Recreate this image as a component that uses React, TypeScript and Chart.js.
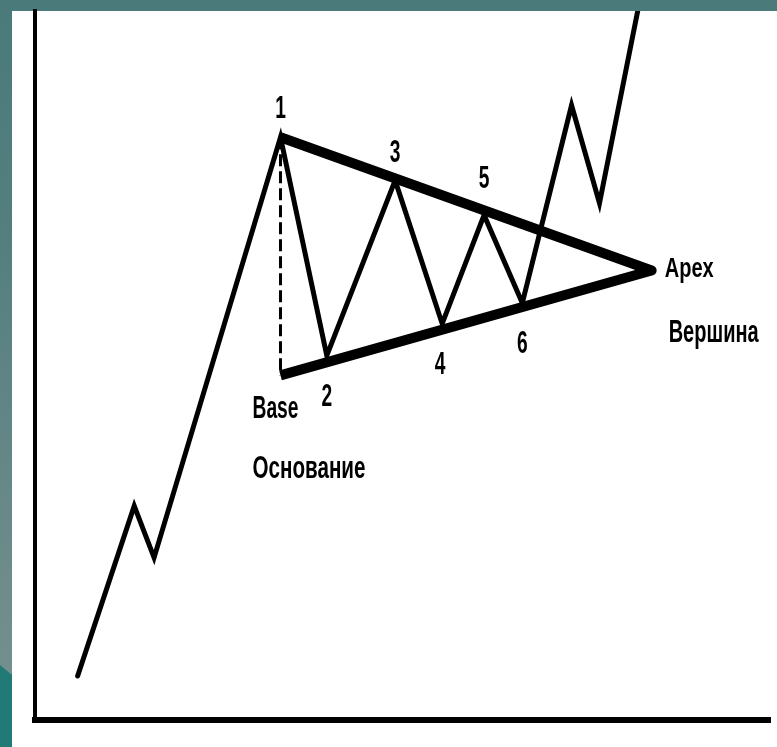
import React, { useEffect, useRef } from "react";
import { Chart, registerables } from "chart.js";

Chart.register(...registerables);

// Time (x) and price (y), both on a 0..100 scale
const priceX = [5.8, 13.5, 16.2, 33.4, 39.7, 49.0, 55.4, 61.1, 66.3, 73.0, 76.8, 82.0];
const priceY = [6.2, 30.2, 22.9, 82.2, 51.4, 76.1, 55.9, 71.2, 58.8, 86.7, 72.9, 100];

// Triangle: top of the base (pivot 1) -> apex -> bottom of the base
const triangleX = [33.4, 83.9, 33.4];
const triangleY = [82.2, 63.4, 48.6];

// Dashed base line
const baseX = [33.4, 33.4];
const baseY = [82.2, 48.6];

// Pivot labels and which price point each belongs to
const pivotLabels = ["1", "2", "3", "4", "5", "6"];
const pivotIndex = [3, 4, 5, 6, 7, 8];

const baseLabels = ["Base", "Основание"];
const apexLabels = ["Apex", "Вершина"];

// ---- styles (pixel offsets from the anchor point, target text widths) ----
const pivotStyle = [
  { dx: 0, dy: -19 },
  { dx: 0, dy: 50 },
  { dx: 0, dy: -18 },
  { dx: -2, dy: 50 },
  { dx: 0, dy: -27 },
  { dx: 0, dy: 50 },
];
const baseStyle = [
  { dx: -28, dy: 43, size: 32, width: 46, weight: "bold" },
  { dx: -28, dy: 103, size: 32, width: 113, weight: "bold" },
];
const apexStyle = [
  { dx: 13, dy: 7, size: 27, width: 49, weight: "bold" },
  { dx: 17, dy: 72, size: 32, width: 90, weight: "bold" },
];

const FONT = "'Liberation Sans', Arial, sans-serif";

const toPts = (xs: number[], ys: number[]) => xs.map((x, i) => ({ x, y: ys[i] }));

const labelPlugin = {
  id: "labels",
  afterDatasetsDraw(chart: any) {
    const ctx = chart.ctx as CanvasRenderingContext2D;
    const xs = chart.scales.x;
    const ys = chart.scales.y;
    ctx.save();
    ctx.fillStyle = "#000";
    ctx.textBaseline = "alphabetic";

    // pivot digits
    ctx.font = `bold 32px ${FONT}`;
    ctx.textAlign = "center";
    pivotLabels.forEach((t, i) => {
      const k = pivotIndex[i];
      const px = xs.getPixelForValue(priceX[k]) + pivotStyle[i].dx;
      const py = ys.getPixelForValue(priceY[k]) + pivotStyle[i].dy;
      ctx.save();
      ctx.translate(px, py);
      ctx.scale(0.6, 1);
      ctx.fillText(t, 0, 0);
      ctx.restore();
    });

    const drawFit = (t: string, x: number, y: number, size: number, width: number, weight: string) => {
      ctx.font = `${weight} ${size}px ${FONT}`;
      ctx.textAlign = "left";
      const w = ctx.measureText(t).width;
      ctx.save();
      ctx.translate(x, y);
      ctx.scale(width / w, 1);
      ctx.fillText(t, 0, 0);
      ctx.restore();
    };

    const bx = xs.getPixelForValue(triangleX[2]);
    const by = ys.getPixelForValue(triangleY[2]);
    baseLabels.forEach((t, i) => {
      const s = baseStyle[i];
      drawFit(t, bx + s.dx, by + s.dy, s.size, s.width, s.weight);
    });

    const ax = xs.getPixelForValue(triangleX[1]);
    const ay = ys.getPixelForValue(triangleY[1]);
    apexLabels.forEach((t, i) => {
      const s = apexStyle[i];
      drawFit(t, ax + s.dx, ay + s.dy, s.size, s.width, s.weight);
    });

    ctx.restore();
  },
};

export default function App() {
  const ref = useRef<HTMLCanvasElement>(null);

  useEffect(() => {
    if (!ref.current) return;
    const chart = new Chart(ref.current, {
      type: "scatter",
      data: {
        datasets: [
          {
            data: toPts(baseX, baseY),
            showLine: true,
            borderColor: "#000",
            borderWidth: 3,
            borderDash: [12, 5],
            pointRadius: 0,
            tension: 0,
          },
          {
            data: toPts(triangleX, triangleY),
            showLine: true,
            borderColor: "#000",
            borderWidth: 10,
            borderCapStyle: "butt",
            borderJoinStyle: "round",
            pointRadius: 0,
            tension: 0,
          },
          {
            data: toPts(priceX, priceY),
            showLine: true,
            borderColor: "#000",
            borderWidth: 5,
            borderCapStyle: "round",
            borderJoinStyle: "miter",
            pointRadius: 0,
            tension: 0,
            clip: 0,
          },
        ] as any,
      },
      options: {
        animation: false,
        responsive: false,
        devicePixelRatio: 1,
        layout: { padding: { left: 27, top: 11, right: 7, bottom: 19 } },
        plugins: { legend: { display: false }, tooltip: { enabled: false } },
        scales: {
          x: {
            type: "linear",
            min: 0,
            max: 100,
            ticks: { display: false },
            grid: { display: false },
            border: { display: true, width: 6, color: "#000" },
          },
          y: {
            type: "linear",
            min: 0,
            max: 100,
            ticks: { display: false },
            grid: { display: false },
            border: { display: true, width: 4, color: "#000" },
          },
        },
      } as any,
      plugins: [labelPlugin],
    });
    return () => chart.destroy();
  }, []);

  return (
    <div
      style={{
        position: "fixed",
        left: 0,
        top: 0,
        width: 777,
        height: 747,
        overflow: "hidden",
        background: "linear-gradient(to bottom, #4a7a7a 0px, #557f7f 250px, #738f8d 665px, #7a9392 747px)",
      }}
    >
      <div
        style={{
          position: "absolute",
          left: 0,
          top: 665,
          width: 12,
          height: 82,
          background: "#217a76",
          clipPath: "polygon(0 0, 100% 10px, 100% 100%, 0 100%)",
        }}
      />
      <div style={{ position: "absolute", left: 12, top: 11, right: 0, bottom: 0, background: "#fff" }} />
      <canvas
        ref={ref}
        width={777}
        height={747}
        style={{ position: "absolute", left: 0, top: 0, width: 777, height: 747 }}
      />
    </div>
  );
}
